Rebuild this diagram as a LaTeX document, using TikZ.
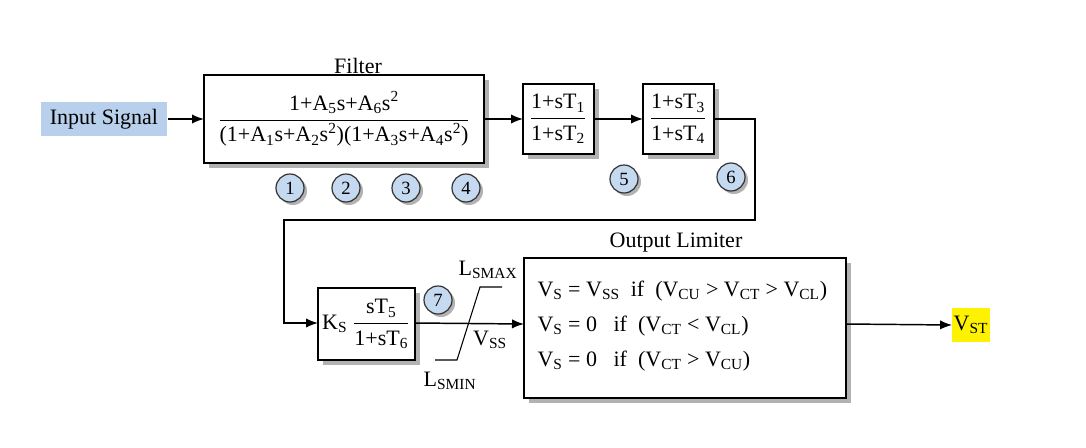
\documentclass[tikz,border=0pt]{standalone}
\usepackage{fontspec}
\setmainfont{Liberation Serif}
\usetikzlibrary{arrows.meta}
\definecolor{cblue}{HTML}{C5D9F1}
\definecolor{iblue}{HTML}{B8D0EC}
\newcommand{\sbs}[1]{\textsubscript{#1}}
\newcommand{\sps}[1]{\textsuperscript{#1}}
\newcommand{\fr}[2]{$\displaystyle\frac{\mbox{#1}}{\mbox{#2}}$}
\begin{document}
\begin{tikzpicture}[x=0.75pt,y=-0.75pt,
  num/.style={circle,draw=black!80,line width=0.9pt,fill=cblue,minimum size=21pt,inner sep=0pt,font=\fontsize{14}{14}\selectfont},
  arr/.style={-{Latex[length=9pt,width=7pt]},line width=1.1pt},
  ln/.style={line width=1.1pt},
  txt/.style={font=\fontsize{16.5}{19}\selectfont,inner sep=1pt}]
\useasboundingbox (0,0) rectangle (1086,447);
\newcommand{\shbox}[5]{%
  \fill[gray!60] (#1+5,#2+5) rectangle (#3+5,#4+5);
  \draw[line width=1.1pt,fill=white] (#1,#2) rectangle (#3,#4);
  \node[inner sep=0pt] (#5) at ({(#1+#3)/2},{(#2+#4)/2}) {};}
% input
\node[txt,fill=iblue,minimum height=25pt,minimum width=95pt,align=center] (in) at (104,119) {Input Signal};
% filter
\shbox{204}{75}{484}{163}{fb}
\coordinate (fbL) at (204,119); \coordinate (fbR) at (484,119);
\node[txt] (flab) at (358,66) {Filter};
\node[txt] (ftf) at (344,119) {\fr{1+A\sbs{5}s+A\sbs{6}s\sps{2}}{(1+A\sbs{1}s+A\sbs{2}s\sps{2})(1+A\sbs{3}s+A\sbs{4}s\sps{2})}};
\foreach \x/\n in {290/1,346/2,406/3,466/4}{
  \fill[gray!60] (\x+3,191) circle (10.5pt);
  \node[num] (c\n) at (\x,188) {\n};}
% T1/T2
\shbox{523}{84}{594}{154}{b1}
\coordinate (b1L) at (523,119); \coordinate (b1R) at (594,119);
\node[txt] (t1) at (558,119) {\fr{1+sT\sbs{1}}{1+sT\sbs{2}}};
\shbox{643}{84}{714}{154}{b2}
\coordinate (b2L) at (643,119); \coordinate (b2R) at (714,119);
\node[txt] (t2) at (678,119) {\fr{1+sT\sbs{3}}{1+sT\sbs{4}}};
\fill[gray!60] (627,182) circle (10.5pt); \node[num] (c5) at (624,179) {5};
\fill[gray!60] (734,180) circle (10.5pt); \node[num] (c6) at (731,177) {6};
% Ks
\shbox{318}{288}{415}{360}{b3}
\coordinate (b3L) at (318,323); \coordinate (b3R) at (415,323);
\node[txt] (ks) at (366,324) {K\sbs{S} \fr{sT\sbs{5}}{1+sT\sbs{6}}};
\fill[gray!60] (441,303) circle (10.5pt); \node[num] (c7) at (438,300) {7};
% limiter box
\shbox{524}{258}{846}{398}{b4}
\coordinate (b4L) at (524,324); \coordinate (b4R) at (846,324);
\node[txt] (olab) at (676,243) {Output Limiter};
\node[txt,anchor=west] (e1) at (536,291) {V\sbs{S} = V\sbs{SS}\ \ if \ (V\sbs{CU} > V\sbs{CT} > V\sbs{CL})};
\node[txt,anchor=west] (e2) at (536,326) {V\sbs{S} = 0\ \ \ if \ (V\sbs{CT} < V\sbs{CL})};
\node[txt,anchor=west] (e3) at (536,361) {V\sbs{S} = 0\ \ \ if \ (V\sbs{CT} > V\sbs{CU})};
% output
\node[txt,fill=yellow,minimum height=25pt,minimum width=28pt] (out) at (971,325) {V\sbs{ST}};
% limiter symbol
\coordinate (l1) at (435,360); \coordinate (l2) at (457,360);
\coordinate (l3) at (480,287); \coordinate (l4) at (502,287);
\draw[line width=0.8pt] (l1)--(l2)--(l3)--(l4);
\node[txt] (lmax) at (488,270) {L\sbs{SMAX}};
\node[txt] (lmin) at (450,381) {L\sbs{SMIN}};
\node[txt] (vss) at (490,340) {V\sbs{SS}};
% connectors
\draw[arr] (in.east) -- (fbL);
\draw[arr] (fbR) -- (b1L);
\draw[arr] (b1R) -- (b2L);
\coordinate (k1) at (755,119); \coordinate (k2) at (755,220); \coordinate (k3) at (284,220); \coordinate (k4) at (284,323);
\draw[arr] (b2R) -- (k1) -- (k2) -- (k3) -- (k4) -- (b3L);
\draw[arr] (b3R) -- (b4L);
\draw[arr] (b4R) -- (out.west);
\end{tikzpicture}
\end{document}
